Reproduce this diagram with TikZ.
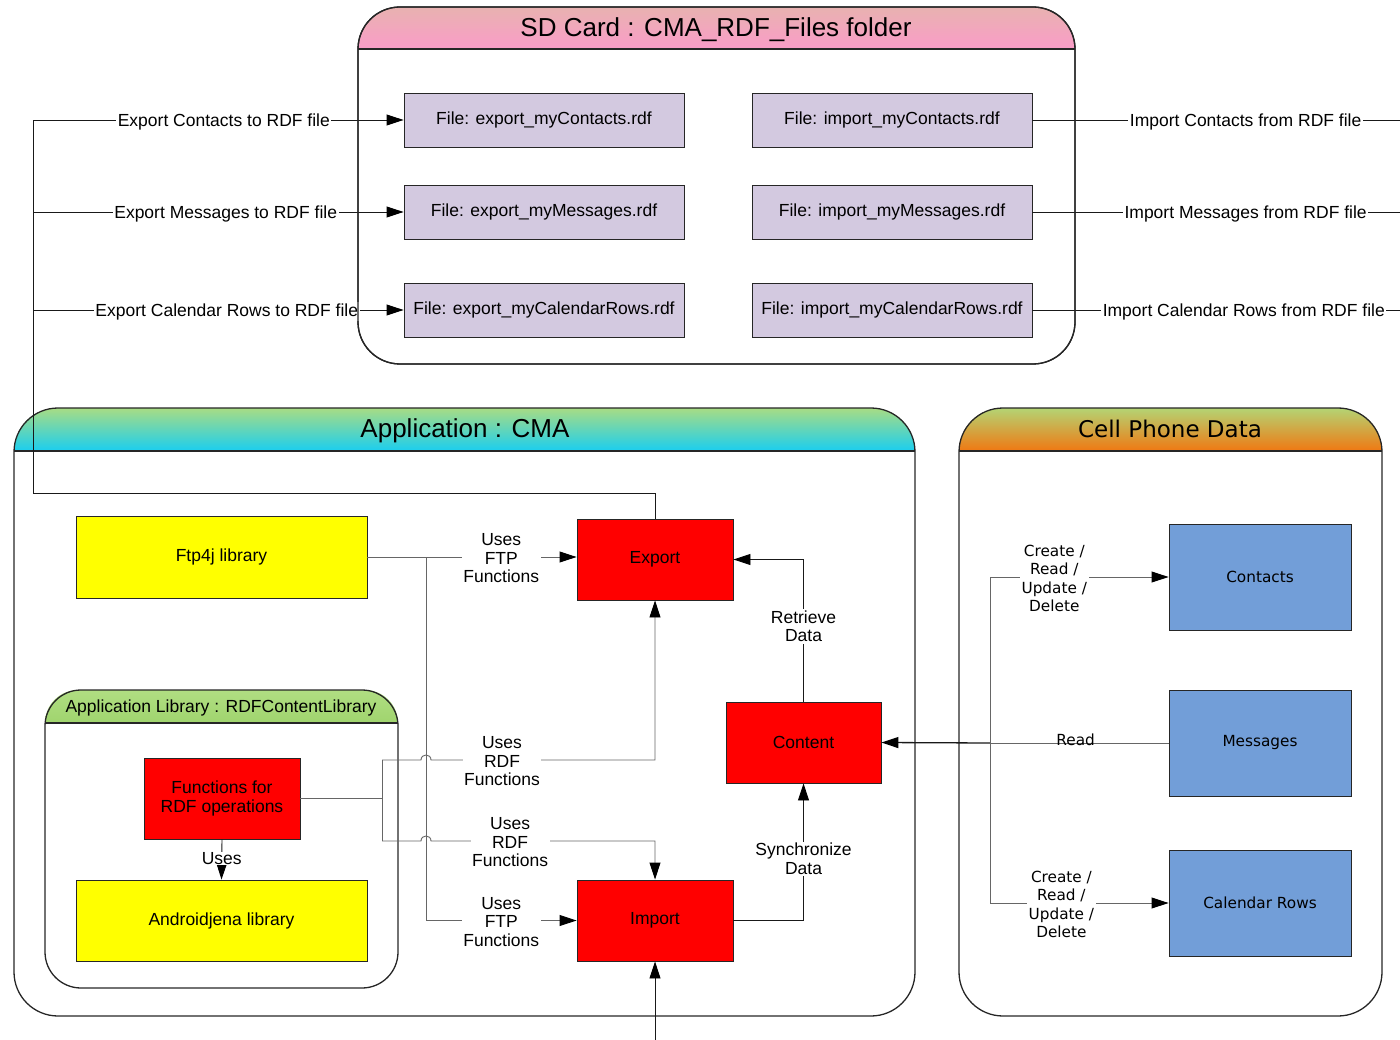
\documentclass[tikz,border=0pt]{standalone}
\usepackage{fontspec}
\setmainfont{Liberation Sans}
\newfontfamily\dvfont{DejaVu Sans}
\usetikzlibrary{arrows.meta}
\definecolor{fileC}{RGB}{211,201,224}
\definecolor{blueC}{RGB}{114,158,216}
\definecolor{sdTop}{RGB}{232,178,176}
\definecolor{sdBot}{RGB}{250,156,200}
\definecolor{appTop}{RGB}{168,220,132}
\definecolor{appBot}{RGB}{26,206,240}
\definecolor{cellTop}{RGB}{180,212,116}
\definecolor{cellBot}{RGB}{240,120,18}
\definecolor{libTop}{RGB}{176,222,130}
\definecolor{libBot}{RGB}{160,212,110}
\definecolor{yelC}{RGB}{255,255,0}
\newcommand\lblf{\fontsize{17.5}{18.5}\selectfont}
\newcommand\dvf{\dvfont\fontsize{15.3}{18.3}\selectfont}
\newcommand\ttlf{\fontsize{26}{30}\selectfont}
\tikzset{
  box/.style={draw=black!85, line width=0.9pt, inner sep=0pt, align=center, font=\lblf},
  filebox/.style={box, fill=fileC, minimum width=280pt, minimum height=54pt},
  ybox/.style={box, fill=yelC, minimum width=291pt, minimum height=82pt},
  rbox/.style={box, fill=red, minimum width=156pt, minimum height=81pt},
  bbox/.style={box, fill=blueC, minimum width=182pt, minimum height=106pt, font=\dvf},
  lbl/.style={fill=white, inner sep=1.5pt, align=center, font=\lblf, yshift=-1.5pt},
  dlbl/.style={lbl, font=\dvf},
  conn/.style={line width=0.9pt, draw=black!90},
  gconn/.style={line width=0.9pt, draw=black!60},
  arr/.style={-{Triangle[length=17pt,width=11pt,color=black]}},
  cont/.style={draw=black!85, line width=1.3pt},
}
\begin{document}
\begin{tikzpicture}[x=1pt,y=-1pt]
\useasboundingbox (0,0) rectangle (1400,1040);

% ---------- containers ----------
% SD card
\path[top color=sdTop, bottom color=sdBot] (358,49) [rounded corners=42pt] -- (358,7) -- (1075,7) [sharp corners] -- (1075,49) -- cycle;
\draw[cont, rounded corners=42pt] (358,7) rectangle (1075,364);
\draw[cont] (358,49) -- (1075,49);
\node[font=\ttlf] (sdtitle) at (716,30) {SD Card : CMA\_RDF\_Files folder};
% Application
\path[top color=appTop, bottom color=appBot] (14,451) [rounded corners=43pt] -- (14,408) -- (915,408) [sharp corners] -- (915,451) -- cycle;
\draw[cont, rounded corners=44pt] (14,408) rectangle (915,1016);
\draw[cont] (14,451) -- (915,451);
\node[font=\ttlf] (apptitle) at (465,431) {Application : CMA};
% Cell phone
\path[top color=cellTop, bottom color=cellBot] (959,451) [rounded corners=43pt] -- (959,408) -- (1382,408) [sharp corners] -- (1382,451) -- cycle;
\draw[cont, rounded corners=44pt] (959,408) rectangle (1382,1016);
\draw[cont] (959,451) -- (1382,451);
\node[font={\dvfont\fontsize{23}{27}\selectfont}] (celltitle) at (1170,429) {Cell Phone Data};
% Library
\path[top color=libTop, bottom color=libBot] (45,723) [rounded corners=33pt] -- (45,690) -- (398,690) [sharp corners] -- (398,723) -- cycle;
\draw[cont, rounded corners=36pt] (45,690) rectangle (398,988);
\draw[cont] (45,723) -- (398,723);
\node[font=\lblf] (libtitle) at (221,707.5) {Application Library : RDFContentLibrary};

% ---------- nodes ----------
\node[filebox] (ec)   at (544,120) {File: export\_myContacts.rdf};
\node[filebox] (em)   at (544,212) {File: export\_myMessages.rdf};
\node[filebox] (ecal) at (544,310) {File: export\_myCalendarRows.rdf};
\node[filebox] (ic)   at (892,120) {File: import\_myContacts.rdf};
\node[filebox] (im)   at (892,212) {File: import\_myMessages.rdf};
\node[filebox] (ical) at (892,310) {File: import\_myCalendarRows.rdf};

\node[ybox] (ftp) at (221.5,557) {Ftp4j library};
\node[rbox] (export) at (655,559.5) {Export};
\node[rbox, minimum width=155pt] (content) at (803.5,742.5) {Content};
\node[rbox] (import) at (655,920.5) {Import};
\node[rbox] (funcs) at (222,798.5) {Functions for\\RDF operations};
\node[ybox, minimum height=81pt] (android) at (221.5,920.5) {Androidjena library};

\node[bbox] (contacts) at (1260,577) {Contacts};
\node[bbox] (messages) at (1260,743) {Messages};
\node[bbox] (calrows)  at (1260,903) {Calendar Rows};

% ---------- connectors ----------
% export bus
\coordinate (e0) at (655,493);
\coordinate (e1) at (33,493);
\coordinate (b1) at (33,120);
\coordinate (b2) at (33,212);
\coordinate (b3) at (33,310);
\draw[conn] (export.north) -- (e0) -- (e1) -- (b1);
\draw[conn,arr] (b1) -- node[lbl,pos=0.515]{Export Contacts to RDF file} (ec.west);
\draw[conn,arr] (b2) -- node[lbl,pos=0.52]{Export Messages to RDF file} (em.west);
\draw[conn,arr] (b3) -- node[lbl,pos=0.523]{Export Calendar Rows to RDF file} (ecal.west);

% import lines
\coordinate (r1) at (1400,120);
\coordinate (r2) at (1400,212);
\coordinate (r3) at (1400,310);
\draw[conn] (ic.east) -- node[lbl,pos=0.58]{Import Contacts from RDF file} (r1);
\draw[conn] (im.east) -- node[lbl,pos=0.58]{Import Messages from RDF file} (r2);
\draw[conn] (ical.east) -- node[lbl,pos=0.575]{Import Calendar Rows from RDF file} (r3);
\coordinate (bot) at (655,1040);
\draw[conn,arr] (bot) -- (import.south);

% FTP
\coordinate (j1) at (426,557);
\draw[gconn] (ftp.east) -- (j1);
\draw[gconn,arr] (j1) -- node[lbl]{Uses\\FTP\\Functions} (j1 -| export.west);
\draw[gconn,arr] (j1) |- node[lbl,pos=0.75]{Uses\\FTP\\Functions} (import.west);

% RDF
\coordinate (k0) at (382,798.5);
\coordinate (k1) at (382,760);
\coordinate (k2) at (382,841);
\coordinate (h1a) at (421,760);
\coordinate (h1b) at (431,760);
\coordinate (h2a) at (421,841);
\coordinate (h2b) at (431,841);
\coordinate (u1) at (655,760);
\coordinate (u2) at (655,841);
\draw[gconn] (funcs.east) -- (k0);
\draw[gconn] (k1) -- (k2);
\draw[gconn,arr] (k1) -- (h1a) .. controls (421,753.3) and (431,753.3) .. (h1b) -- node[lbl,pos=0.317]{Uses\\RDF\\Functions} (u1) -- (export.south);
\draw[gconn,arr] (k2) -- (h2a) .. controls (421,834.3) and (431,834.3) .. (h2b) -- node[lbl,pos=0.353]{Uses\\RDF\\Functions} (u2) -- (import.north);

% Retrieve / Synchronize
\draw[conn,arr] (content.north) |- node[lbl,pos=0.27]{Retrieve\\Data} (export.east);
\draw[conn,arr] (import.east) -| node[lbl,pos=0.73]{Synchronize\\Data} (content.south);

% Read
\coordinate (m0) at (990,743);
\draw[gconn] (messages.west) -- node[pos=0.52, anchor=base, font=\dvf, inner sep=0pt, yshift=-2pt]{Read} (m0);
\draw[conn,arr,line width=1.3pt] (m0) -- (content.east);

% CRUD
\coordinate (c1) at (990,577);
\coordinate (c2) at (990,903);
\draw[gconn] (c1) -- (c2);
\draw[gconn,arr] (c1) -- node[dlbl,pos=0.36]{Create /\\Read /\\Update /\\Delete} (contacts.west);
\draw[gconn,arr] (c2) -- node[dlbl,pos=0.4]{Create /\\Read /\\Update /\\Delete} (calrows.west);

% Uses
\draw[conn,arr] (funcs.south) -- node[lbl,inner sep=0.5pt,pos=0.44]{Uses} (android.north);

% redraw SD outline on top of labels
\draw[cont, rounded corners=42pt] (358,7) rectangle (1075,364);
\end{tikzpicture}
\end{document}
